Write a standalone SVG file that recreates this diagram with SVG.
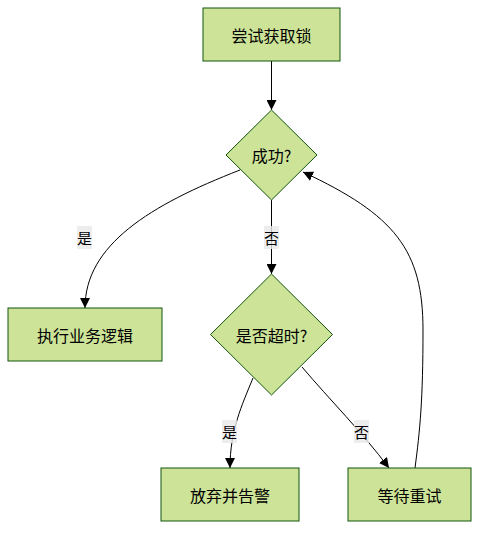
<svg xmlns="http://www.w3.org/2000/svg" width="486" height="538" viewBox="0 0 486 538">
<style>
.node rect,.node polygon{fill:#cde498;stroke:#13540c;stroke-width:1}
.node text{font-family:"Noto Sans CJK SC","Liberation Sans",sans-serif;font-size:16px;fill:#000;text-anchor:middle;dominant-baseline:central}
.edge{fill:none;stroke:#000;stroke-width:1;marker-end:url(#arrow)}
.lbl rect{fill:#e8e8e8;opacity:0.8}
.lbl text{font-family:"Noto Sans CJK SC","Liberation Sans",sans-serif;font-size:15px;fill:#000;text-anchor:middle;dominant-baseline:central}
</style>
<defs>
<marker id="arrow" viewBox="0 0 10 10" refX="10" refY="5" markerWidth="10" markerHeight="10" markerUnits="userSpaceOnUse" orient="auto">
<path d="M0,0 L10,5 L0,10 z" fill="#000"/>
</marker>
</defs>
<rect width="486" height="538" fill="#fff"/>
<g id="connectors">
<path class="edge" d="M271.5,61 L271.5,110"/>
<path class="edge" d="M240,170 C150,205 85,245 85,308"/>
<path class="edge" d="M271.5,200 L271.5,274"/>
<path class="edge" d="M253,378 C242,405 230,430 230,468"/>
<path class="edge" d="M302,367 C330,400 362,432 389,468"/>
<path class="edge" d="M415,468 C420,430 423,400 423,330 C423,250 395,215 303,172"/>
<g class="lbl"><rect x="77" y="226" width="15" height="23"/><text x="84.5" y="237.5">是</text></g>
<g class="lbl"><rect x="264" y="226" width="15" height="23"/><text x="271.5" y="237.5">否</text></g>
<g class="lbl"><rect x="222" y="420" width="15" height="23"/><text x="229.5" y="431.5">是</text></g>
<g class="lbl"><rect x="354" y="420" width="15" height="23"/><text x="361.5" y="431.5">否</text></g>
</g>
<g id="node-try" class="node"><rect x="203" y="8" width="137" height="53"/><text x="271.5" y="34.5">尝试获取锁</text></g>
<g id="node-success" class="node"><polygon points="271.5,110 317,155 271.5,200 226,155"/><text x="271.5" y="155">成功?</text></g>
<g id="node-exec" class="node"><rect x="8" y="308" width="154" height="53"/><text x="85" y="334.5">执行业务逻辑</text></g>
<g id="node-timeout" class="node"><polygon points="271.5,274 332.5,334.5 271.5,395 210.5,334.5"/><text x="271.5" y="334.5">是否超时?</text></g>
<g id="node-abort" class="node"><rect x="161" y="468" width="138" height="53"/><text x="230" y="494.5">放弃并告警</text></g>
<g id="node-wait" class="node"><rect x="348" y="468" width="123" height="53"/><text x="409.5" y="494.5">等待重试</text></g>
</svg>
